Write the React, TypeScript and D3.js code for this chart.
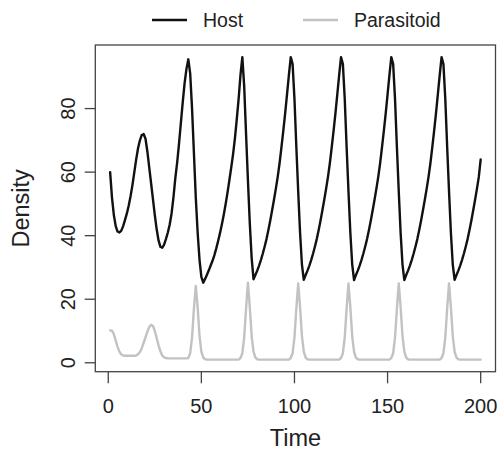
import React from "react";
import * as d3 from "d3";

const timeStart = 1;
const timeEnd = 200;
const time = d3.range(timeStart, timeEnd + 1);

const host = [
  60, 52, 46.5, 43, 41.3, 41, 41.6, 43, 45, 47,
  49.5, 52.5, 56, 60, 64, 67.5, 70, 71.7, 72, 70.5,
  66.5, 61.5, 56.5, 51.5, 46.5, 42, 38.5, 36.5, 36.2, 37.2,
  39, 41, 43.5, 47, 52, 58, 63, 69, 75.5, 82,
  88, 92.5, 95.5, 91, 80, 66, 52, 41, 32.5, 27,
  25.2, 26.4, 27.7, 29.1, 30.6, 32.1, 33.9, 36, 38.3, 40.8,
  43.5, 46.5, 49.8, 53.4, 57.3, 61.3, 65.5, 70.5, 76.5, 83,
  90.5, 96.2, 87, 72, 57.5, 44, 33, 26.3, 27.6, 29,
  30.6, 32.4, 34.4, 36.6, 39, 41.8, 44.8, 48, 51.3, 54.8,
  58.5, 62.8, 67.8, 73, 78.5, 84.5, 90.5, 96.2, 94, 83,
  68, 54, 41, 31, 26.1, 27.6, 29, 30.6, 32.4, 34.4,
  36.6, 39, 41.8, 44.8, 48, 51.3, 54.8, 58.5, 62.8, 67.8,
  73, 78.5, 84.5, 90.5, 96.2, 94, 83, 68, 54, 41,
  31, 26, 27.6, 29, 30.6, 32.4, 34.4, 36.6, 39, 41.8,
  44.8, 48, 51.3, 54.8, 58.5, 62.8, 67.8, 73, 78.5, 84.5,
  90.5, 96.2, 94, 83, 68, 54, 41, 31, 26, 27.6,
  29, 30.6, 32.4, 34.4, 36.6, 39, 41.8, 44.8, 48, 51.3,
  54.8, 58.5, 62.8, 67.8, 73, 78.5, 84.5, 90.5, 96.2, 94,
  83, 68, 54, 41, 31, 26.1, 27.6, 29, 30.6, 32.4,
  34.4, 36.6, 39, 41.8, 44.8, 48, 51.3, 54.8, 58.5, 64,
];

const parasitoid = [
  10.2, 10.1, 9, 7, 5, 3.5, 2.6, 2.3, 2.2, 2.2,
  2.2, 2.2, 2.2, 2.2, 2.3, 2.7, 3.4, 4.6, 6.3, 8,
  9.8, 11.2, 12, 11.6, 10, 7.8, 5.5, 3.6, 2.3, 1.7,
  1.5, 1.4, 1.4, 1.4, 1.4, 1.4, 1.4, 1.4, 1.4, 1.4,
  1.4, 1.4, 1.5, 3, 8, 17, 24.2, 17.5, 8.5, 3.5,
  1.6, 1.1, 1, 1, 1, 1, 1, 1, 1, 1,
  1, 1, 1, 1, 1, 1, 1, 1, 1, 1,
  1.5, 3, 8, 17, 25.2, 17.5, 8.5, 3.5, 1.6, 1.1,
  1, 1, 1, 1, 1, 1, 1, 1, 1, 1,
  1, 1, 1, 1, 1, 1, 1, 1.5, 3, 8,
  17, 25, 17.5, 8.5, 3.5, 1.6, 1.1, 1, 1, 1,
  1, 1, 1, 1, 1, 1, 1, 1, 1, 1,
  1, 1, 1, 1, 1.5, 3, 8, 17, 25, 17.5,
  8.5, 3.5, 1.6, 1.1, 1, 1, 1, 1, 1, 1,
  1, 1, 1, 1, 1, 1, 1, 1, 1, 1,
  1, 1.5, 3, 8, 17, 25, 17.5, 8.5, 3.5, 1.6,
  1.1, 1, 1, 1, 1, 1, 1, 1, 1, 1,
  1, 1, 1, 1, 1, 1, 1, 1, 1.5, 3,
  8, 17, 25, 17.5, 8.5, 3.5, 1.6, 1.1, 1, 1,
  1, 1, 1, 1, 1, 1, 1, 1, 1, 1,
];

const xTicks = [0, 50, 100, 150, 200];
const yTicks = [0, 20, 40, 60, 80];
const seriesNames = ["Host", "Parasitoid"];
const seriesColors = ["#111111", "#c2c2c2"];

const FONT = "'Liberation Sans', Arial, Helvetica, sans-serif";

export default function App() {
  const left = 95.3, right = 495.5, top = 45, bottom = 371.7;
  const xPad = 0.04 * (timeEnd - timeStart);
  const x = d3.scaleLinear().domain([timeStart - xPad, timeEnd + xPad]).range([left, right]);
  const all = host.concat(parasitoid);
  const lo = d3.min(all) as number;
  const hi = d3.max(all) as number;
  const yPad = 0.04 * (hi - lo);
  const y = d3.scaleLinear().domain([lo - yPad, hi + yPad]).range([bottom, top]);

  const line = d3
    .line<number>()
    .x((_, i) => x(time[i]))
    .y((d) => y(d));

  const series = [host, parasitoid];
  const axisColor = "#444";

  return (
    <svg
      width={500}
      height={450}
      style={{ position: "absolute", left: 0, top: 0, background: "#fff" }}
      fontFamily={FONT}
    >
      {/* legend */}
      {seriesNames.map((name, i) => {
        const lx = i === 0 ? 152 : 303;
        return (
          <g key={name}>
            <line x1={lx} x2={lx + 35} y1={20} y2={20} stroke={seriesColors[i]} strokeWidth={2.4} />
            <text x={lx + 51} y={27} fontSize={19.5} fill="#222">
              {name}
            </text>
          </g>
        );
      })}

      {/* series */}
      {series.map((s, i) => (
        <path
          key={i}
          d={line(s) || ""}
          fill="none"
          stroke={seriesColors[i]}
          strokeWidth={2.4}
          strokeLinejoin="round"
          strokeLinecap="round"
        />
      ))}

      {/* box */}
      <rect
        x={left}
        y={top}
        width={right - left}
        height={bottom - top}
        fill="none"
        stroke={axisColor}
        strokeWidth={1.3}
      />

      {/* x axis */}
      {xTicks.map((t) => (
        <g key={t}>
          <line x1={x(t)} x2={x(t)} y1={bottom} y2={bottom + 11.6} stroke={axisColor} strokeWidth={1.3} />
          <text x={x(t)} y={412.7} fontSize={20} textAnchor="middle" fill="#222">
            {t}
          </text>
        </g>
      ))}
      <text x={(left + right) / 2} y={446} fontSize={23.5} textAnchor="middle" fill="#222">
        Time
      </text>

      {/* y axis */}
      {yTicks.map((t) => (
        <g key={t}>
          <line x1={left - 10.6} x2={left} y1={y(t)} y2={y(t)} stroke={axisColor} strokeWidth={1.3} />
          <text
            transform={`translate(75,${y(t)}) rotate(-90)`}
            fontSize={20}
            textAnchor="middle"
            fill="#222"
          >
            {t}
          </text>
        </g>
      ))}
      <text
        transform={`translate(29,${(top + bottom) / 2}) rotate(-90)`}
        fontSize={23.5}
        textAnchor="middle"
        fill="#222"
      >
        Density
      </text>
    </svg>
  );
}
